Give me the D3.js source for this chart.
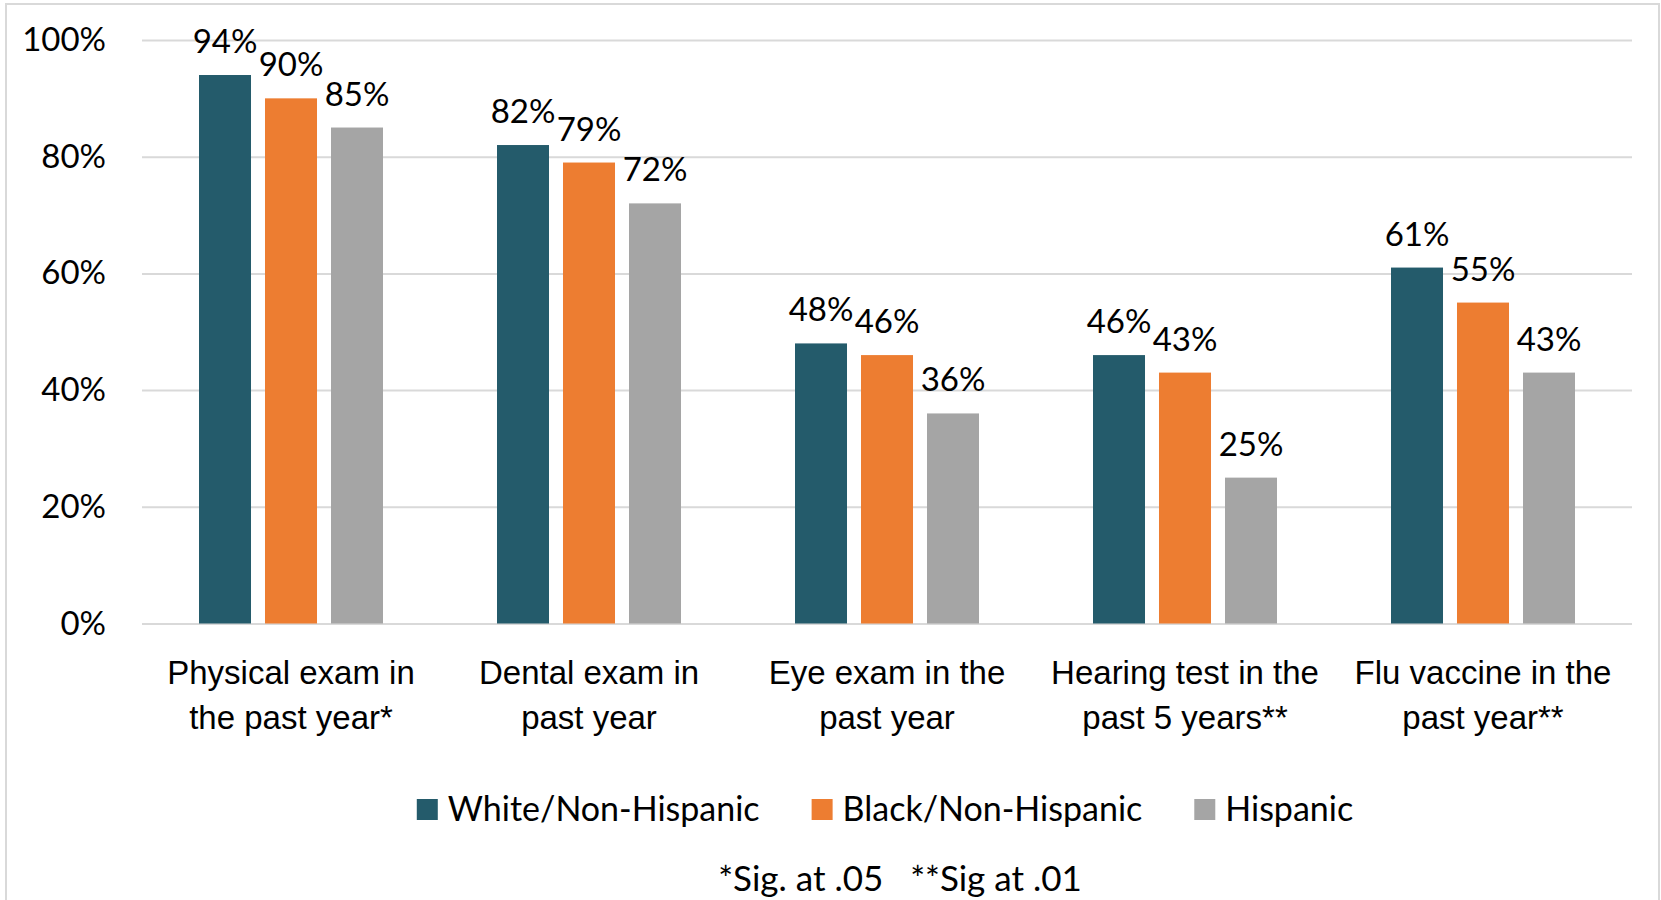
<!DOCTYPE html>
<html>
<head>
<meta charset="utf-8">
<script src="https://cdn.jsdelivr.net/npm/d3@7"></script>
<style>
  html, body { margin: 0; padding: 0; background: #fff; }
  svg { display: block; font-family: Lato, "Open Sans", sans-serif; }
</style>
</head>
<body>
<svg id="chart" width="1661" height="900"></svg>
<script>
// Preventive care by race/ethnicity (percent)
const categories = [
  ["Physical exam in", "the past year*"],
  ["Dental exam in", "past year"],
  ["Eye exam in the", "past year"],
  ["Hearing test in the", "past 5 years**"],
  ["Flu vaccine in the", "past year**"]
];
const seriesNames = ["White/Non-Hispanic", "Black/Non-Hispanic", "Hispanic"];
const whiteValues    = [94, 82, 48, 46, 61];
const blackValues    = [90, 79, 46, 43, 55];
const hispanicValues = [85, 72, 36, 25, 43];
const yTicks = [0, 20, 40, 60, 80, 100];
const footnote = "*Sig. at .05   **Sig at .01";

const colors = ["#245B6B", "#ED7D31", "#A5A5A5"];
const seriesValues = [whiteValues, blackValues, hispanicValues];
const catKeys = categories.map((c, i) => i);

const svg = d3.select("#chart");
const fontSize = 33;

// outer frame
svg.append("rect")
  .attr("x", 6).attr("y", 4).attr("width", 1653).attr("height", 900)
  .attr("fill", "none").attr("stroke", "#d9d9d9").attr("stroke-width", 2);

const plotLeft = 142, plotRight = 1632, plotTop = 40, plotBottom = 623.5;

const y = d3.scaleLinear().domain([0, 100]).range([plotBottom, plotTop]);
const x0 = d3.scaleBand().domain(catKeys).range([plotLeft, plotRight]).paddingInner(0).paddingOuter(0);
const groupWidth = 184;
const x1 = d3.scaleBand().domain(d3.range(seriesNames.length))
  .range([0, groupWidth]).paddingInner(0.212).paddingOuter(0);

// gridlines + y labels
const yAxis = svg.append("g")
  .attr("transform", `translate(${plotLeft},0)`)
  .call(d3.axisLeft(y).tickValues(yTicks).tickFormat(d => d + "%")
    .tickSize(-(plotRight - plotLeft)).tickPadding(36));
yAxis.select(".domain").remove();
yAxis.selectAll(".tick line").attr("stroke", "#d9d9d9").attr("stroke-width", 2);
yAxis.selectAll(".tick text")
  .attr("fill", "#000").style("font-size", fontSize + "px")
  .style("font-family", "Lato, 'Open Sans', sans-serif");

// bars
const groups = svg.append("g").selectAll("g")
  .data(catKeys).join("g")
  .attr("transform", d => `translate(${x0(d) + (x0.bandwidth() - groupWidth) / 2},0)`);

groups.selectAll("rect")
  .data(ci => seriesValues.map((vals, si) => ({ si, v: vals[ci] })))
  .join("rect")
  .attr("x", d => x1(d.si))
  .attr("width", x1.bandwidth())
  .attr("y", d => y(d.v))
  .attr("height", d => y(0) - y(d.v))
  .attr("fill", d => colors[d.si]);

// value labels
groups.selectAll("text")
  .data(ci => seriesValues.map((vals, si) => ({ si, v: vals[ci] })))
  .join("text")
  .attr("x", d => x1(d.si) + x1.bandwidth() / 2)
  .attr("y", d => y(d.v) - 22)
  .attr("text-anchor", "middle")
  .style("font-size", fontSize + "px")
  .attr("fill", "#000")
  .text(d => d.v + "%");

// category labels
const xAxis = svg.append("g")
  .attr("transform", `translate(0,${plotBottom})`)
  .call(d3.axisBottom(x0).tickSize(0).tickFormat(""));
xAxis.select(".domain").remove();
xAxis.selectAll(".tick text").remove();
xAxis.selectAll(".tick").append("text")
  .attr("text-anchor", "middle")
  .attr("fill", "#000")
  .style("font-size", fontSize + "px")
  .selectAll("tspan")
  .data(i => categories[i])
  .join("tspan")
  .attr("x", 0)
  .attr("y", (d, j) => 60 + j * 45)
  .text(d => d);

// legend
const legendFont = 34;
const legend = svg.append("g");
let lx = 0;
seriesNames.forEach((name, i) => {
  const g = legend.append("g");
  g.append("rect").attr("x", 0).attr("y", -11).attr("width", 21).attr("height", 21)
    .attr("fill", colors[i]);
  const t = g.append("text").attr("x", 31).attr("y", 11)
    .style("font-size", legendFont + "px").attr("fill", "#000").text(name);
  const w = 31 + t.node().getComputedTextLength();
  g.attr("transform", `translate(${lx},0)`);
  lx += w + 52;
});
const legendWidth = lx - 52;
legend.attr("transform", `translate(${885 - legendWidth / 2},810)`);

// footnote
svg.append("text")
  .attr("x", 900).attr("y", 891)
  .attr("text-anchor", "middle")
  .style("white-space", "pre")
  .style("font-size", "35px")
  .attr("fill", "#000")
  .text(footnote);
</script>
</body>
</html>
